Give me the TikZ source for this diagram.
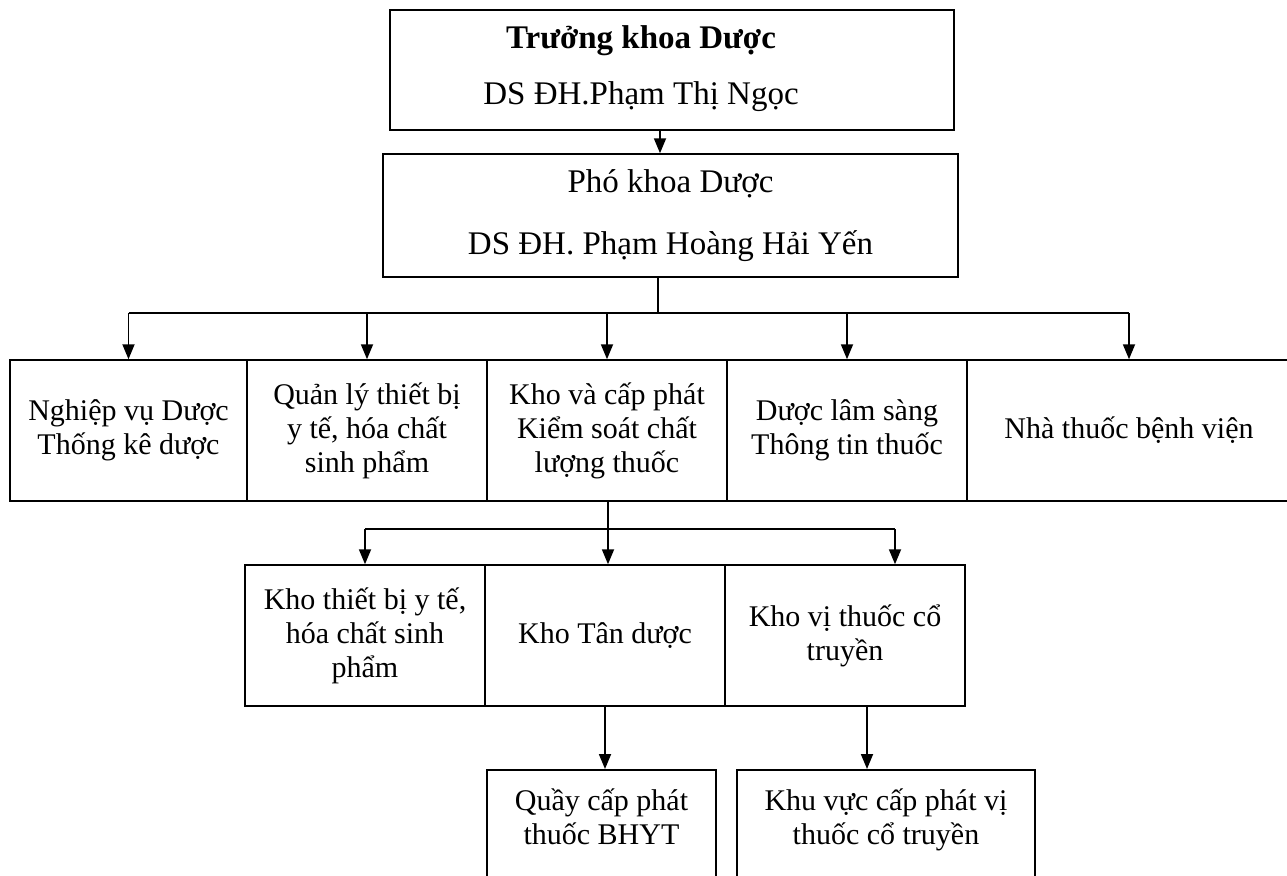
\documentclass[tikz,border=0pt]{standalone}
\usepackage{fontspec}
\setmainfont{Liberation Serif}
\usetikzlibrary{arrows.meta,positioning}
\newcommand\headsize{\fontsize{33}{40}\selectfont}
\newcommand\deptsize{\fontsize{30}{34}\selectfont}
\tikzset{
  orgbox/.style={draw, line width=1.5pt, inner sep=0pt, align=center, font=\deptsize},
  orgline/.style={line width=1.8pt},
  orgarrow/.style={orgline, -{Triangle[width=12pt,length=15pt]}}
}

\begin{document}
\begin{tikzpicture}[x=1pt,y=-1pt]
\useasboundingbox[fill=white] (0,0) rectangle (1287,875);
\node[orgbox, minimum width=564pt, minimum height=120pt] (dean) at (672,70) {};
\node[align=center, font=\headsize] (deanname) at (641,69) {\textbf{Trưởng khoa Dược}\\[16pt]DS ĐH.Phạm Thị Ngọc};
\node[orgbox, font=\headsize, minimum width=575pt, minimum height=123pt] (vice) at (670.5,215.5) {Phó khoa Dược\\[22pt]DS ĐH. Phạm Hoàng Hải Yến};
\node[orgbox, minimum width=237pt, minimum height=141pt] (nghiepvu) at (128.5,430.5) {Nghiệp vụ Dược\\Thống kê dược};
\node[orgbox, minimum width=240pt, minimum height=141pt] (quanly) at (367,430.5) {Quản lý thiết bị\\y tế, hóa chất\\sinh phẩm};
\node[orgbox, minimum width=240pt, minimum height=141pt] (khocp) at (607,430.5) {Kho và cấp phát\\Kiểm soát chất\\lượng thuốc};
\node[orgbox, minimum width=240pt, minimum height=141pt] (lamsang) at (847,430.5) {Dược lâm sàng\\Thông tin thuốc};
\node[orgbox, minimum width=324pt, minimum height=141pt] (nhathuoc) at (1129,430.5) {Nhà thuốc bệnh viện};
\node[orgbox, minimum width=240pt, minimum height=141pt] (khotb) at (365,635.5) {Kho thiết bị y tế,\\hóa chất sinh\\phẩm};
\node[orgbox, minimum width=240pt, minimum height=141pt] (khotd) at (605,635.5) {Kho Tân dược};
\node[orgbox, minimum width=240pt, minimum height=141pt] (khovt) at (845,635.5) {Kho vị thuốc cổ\\truyền};
\node[orgbox, anchor=north, minimum width=229pt, minimum height=136pt] (quay) at (601.5,769) {Quầy cấp phát\\thuốc BHYT\\[8pt]\mbox{}};
\node[orgbox, anchor=north, minimum width=298pt, minimum height=136pt] (khuvuc) at (886,769) {Khu vực cấp phát vị\\thuốc cổ truyền\\[8pt]\mbox{}};
\coordinate (bus1) at (658,313);
\coordinate (bus2) at (608,529);
\coordinate (bus2r) at (895,529);
\draw[orgarrow] ([xshift=-12pt]dean.south) -- ([xshift=-12pt]dean.south |- vice.north);
\draw[orgline] (bus1 |- vice.south) -- (bus1);
\draw[orgline] (bus1 -| nghiepvu.north) -- (bus1 -| nhathuoc.north);
\foreach \u in {nghiepvu,quanly,khocp,lamsang,nhathuoc}
  \draw[orgarrow] (bus1 -| \u.north) -- (\u.north);
\draw[orgline] (bus2 |- khocp.south) -- (bus2);
\draw[orgline] (bus2 -| khotb.north) -- (bus2r);
\draw[orgarrow] (bus2 -| khotb.north) -- (khotb.north);
\draw[orgarrow] (bus2) -- (bus2 |- khotd.north);
\draw[orgarrow] (bus2r) -- (bus2r |- khovt.north);
\draw[orgarrow] (khotd.south) -- (khotd.south |- quay.north);
\draw[orgarrow] ([xshift=22pt]khovt.south) -- ([xshift=22pt]khovt.south |- khuvuc.north);
\end{tikzpicture}
\end{document}
